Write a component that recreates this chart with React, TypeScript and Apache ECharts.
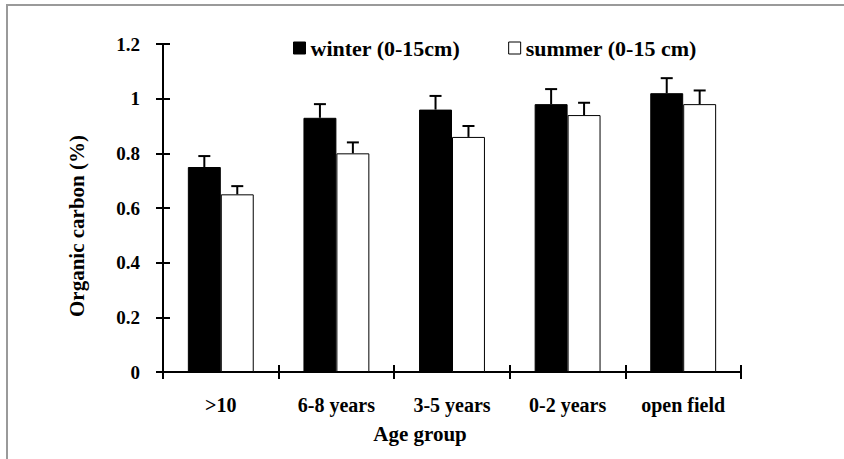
import React, { useEffect, useRef } from "react";
import * as echarts from "echarts";

const categories = [">10", "6-8 years", "3-5 years", "0-2 years", "open field"];
const winterValues = [0.75, 0.93, 0.96, 0.98, 1.02];
const winterErrors = [0.04, 0.05, 0.05, 0.055, 0.055];
const summerValues = [0.65, 0.8, 0.86, 0.94, 0.98];
const summerErrors = [0.03, 0.04, 0.04, 0.045, 0.05];
const seriesNames = ["winter (0-15cm)", "summer (0-15 cm)"];
const yTicks = { min: 0, max: 1.2, interval: 0.2 };

const FONT = "Liberation Serif";
const BAR_FRAC = 0.285;

function errorSeries(values: number[], errors: number[], sign: number) {
  return {
    type: "custom",
    z: 5,
    silent: true,
    encode: { x: 0, y: 1 },
    data: values.map((v, i) => [i, v, errors[i]]),
    renderItem: (params: any, api: any) => {
      const idx = api.value(0);
      const v = api.value(1);
      const e = api.value(2);
      const base = api.coord([idx, v]);
      const top = api.coord([idx, v + e]);
      const w = api.size([1, 0])[0];
      const cx = base[0] + (sign * w * BAR_FRAC) / 2;
      const style = { stroke: "#000", lineWidth: 2 };
      return {
        type: "group",
        children: [
          { type: "line", shape: { x1: cx, y1: base[1], x2: cx, y2: top[1] }, style },
          { type: "line", shape: { x1: cx - 6, y1: top[1], x2: cx + 6, y2: top[1] }, style },
        ],
      };
    },
  };
}

export default function App() {
  const ref = useRef<HTMLDivElement>(null);
  useEffect(() => {
    document.body.style.margin = "0";
    const chart = echarts.init(ref.current!, undefined, { renderer: "svg" });
    const axisLineStyle = { color: "#000", width: 2 };
    chart.setOption({
      animation: false,
      backgroundColor: "#fff",
      textStyle: { fontFamily: FONT },
      graphic: [
        {
          type: "rect",
          silent: true,
          shape: { x: 7, y: 5, width: 1000, height: 1000 },
          style: { fill: "none", stroke: "#9a9a9a", lineWidth: 2 },
          z: -10,
        },
      ],
      legend: {
        data: [
          { name: seriesNames[0], itemStyle: { color: "#000", borderColor: "#000", borderWidth: 1 } },
          { name: seriesNames[1], itemStyle: { color: "#fff", borderColor: "#000", borderWidth: 1 } },
        ],
        left: 288,
        top: 32,
        icon: "rect",
        itemWidth: 12,
        itemHeight: 12,
        itemGap: 48,
        textStyle: { fontFamily: FONT, fontWeight: "bold", fontSize: 22, color: "#000" },
      },
      grid: { left: 163, right: 103, top: 44, bottom: 87 },
      xAxis: [
        {
          type: "category",
          data: categories,
          position: "bottom",
          name: "Age group",
          nameLocation: "middle",
          nameGap: 51,
          nameTextStyle: { fontFamily: FONT, fontWeight: "bold", fontSize: 21, color: "#000", padding: [0, 64, 0, 0] },
          axisLine: { lineStyle: axisLineStyle },
          axisTick: { show: true, length: 7, lineStyle: axisLineStyle },
          axisLabel: { margin: 23, fontFamily: FONT, fontWeight: "bold", fontSize: 20, color: "#000", interval: 0 },
          splitLine: { show: false },
        },
        {
          type: "category",
          data: categories,
          position: "bottom",
          offset: 0,
          axisLine: { show: false },
          axisTick: { show: true, inside: true, length: 7, lineStyle: axisLineStyle },
          axisLabel: { show: false },
          splitLine: { show: false },
        },
      ],
      yAxis: [
        {
          type: "value",
          min: yTicks.min,
          max: yTicks.max,
          interval: yTicks.interval,
          position: "left",
          name: "Organic carbon (%)",
          nameLocation: "middle",
          nameGap: 76,
          nameTextStyle: { fontFamily: FONT, fontWeight: "bold", fontSize: 21, color: "#000", padding: [0, 36, 0, 0] },
          axisLine: { show: true, lineStyle: axisLineStyle },
          axisTick: { show: true, length: 7, lineStyle: axisLineStyle },
          axisLabel: { margin: 23, fontFamily: FONT, fontWeight: "bold", fontSize: 19, color: "#000" },
          splitLine: { show: false },
        },
        {
          type: "value",
          min: yTicks.min,
          max: yTicks.max,
          interval: yTicks.interval,
          position: "left",
          offset: 0,
          axisLine: { show: false },
          axisTick: { show: true, inside: true, length: 7, lineStyle: axisLineStyle },
          axisLabel: { show: false },
          splitLine: { show: false },
        },
      ],
      series: [
        {
          name: seriesNames[0],
          type: "bar",
          data: winterValues,
          barWidth: BAR_FRAC * 100 + "%",
          barGap: "0%",
          itemStyle: { color: "#000", borderColor: "#000", borderWidth: 1 },
        },
        {
          name: seriesNames[1],
          type: "bar",
          data: summerValues,
          barWidth: BAR_FRAC * 100 + "%",
          barGap: "0%",
          itemStyle: { color: "#fff", borderColor: "#000", borderWidth: 1 },
        },
        errorSeries(winterValues, winterErrors, -1),
        errorSeries(summerValues, summerErrors, 1),
      ],
    });
    return () => chart.dispose();
  }, []);
  return <div ref={ref} style={{ position: "absolute", left: 0, top: 0, width: 844, height: 459 }} />;
}
